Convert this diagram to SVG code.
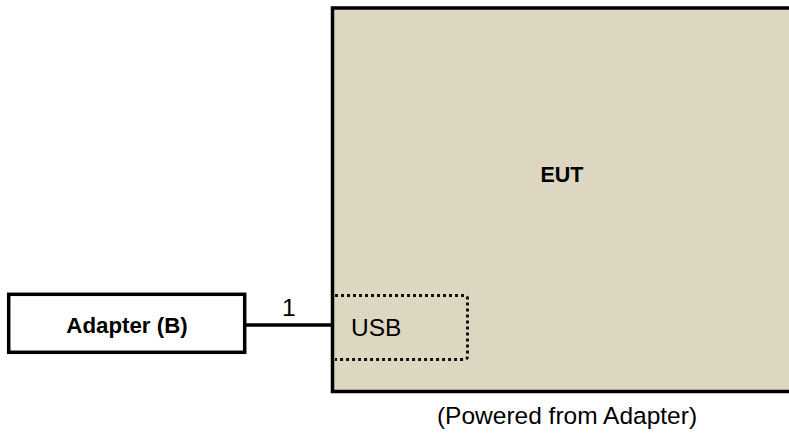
<svg xmlns="http://www.w3.org/2000/svg" width="789" height="436" viewBox="0 0 789 436">
<style>
.box{stroke:#000;stroke-width:3.5}
.bold{font-family:"Liberation Sans",Arial,sans-serif;font-weight:bold;font-size:21.5px;fill:#000}
.reg{font-family:"Liberation Sans",Arial,sans-serif;font-size:24.5px;fill:#000}
.wire{stroke:#000;stroke-width:3.5;fill:none}
.port{stroke:#111;stroke-width:3;stroke-dasharray:3 3;fill:none}
</style>
<rect width="789" height="436" fill="#fff"/>
<g id="eut">
<rect class="box" x="332.5" y="8" width="480" height="383.5" fill="#ddd6c1"/>
<text class="bold" x="562" y="182" text-anchor="middle">EUT</text>
<path class="port" d="M335,295.5 H464 Q467.5,295.5 467.5,299 V356 Q467.5,359.5 464,359.5 H335"/>
<text class="reg" x="351" y="336">USB</text>
<text class="reg" x="567" y="424" text-anchor="middle">(Powered from Adapter)</text>
</g>
<g id="adapter">
<rect class="box" x="8.7" y="294.3" width="236" height="58" fill="#fff"/>
<text class="bold" x="127" y="332.5" text-anchor="middle" style="font-size:22.3px">Adapter (B)</text>
</g>
<g id="connectors">
<line class="wire" x1="246" y1="325" x2="332" y2="325"/>
<text class="reg" x="282" y="316">1</text>
</g>
</svg>
